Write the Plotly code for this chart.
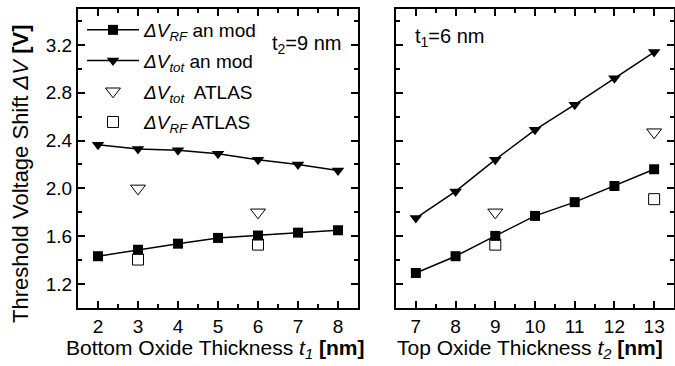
import plotly.graph_objects as go

# ---- data ----
t1_vals = [2, 3, 4, 5, 6, 7, 8]
rf_an_left = [1.433, 1.487, 1.538, 1.586, 1.606, 1.630, 1.650]
tot_an_left = [2.366, 2.330, 2.318, 2.290, 2.240, 2.200, 2.150]
t1_atlas = [3, 6]
tot_atlas_left = [2.00, 1.80]
rf_atlas_left = [1.405, 1.530]

t2_vals = [7, 8, 9, 10, 11, 12, 13]
rf_an_right = [1.293, 1.433, 1.603, 1.770, 1.885, 2.020, 2.160]
tot_an_right = [1.752, 1.975, 2.240, 2.490, 2.700, 2.920, 3.140]
t2_atlas = [9, 13]
tot_atlas_right = [1.80, 2.47]
rf_atlas_right = [1.53, 1.91]

legend_names = [
    "<i>ΔV<sub>RF</sub></i> an mod",
    "<i>ΔV<sub>tot</sub></i> an mod",
    "<i>ΔV<sub>tot</sub></i>  ATLAS",
    "<i>ΔV<sub>RF</sub></i> ATLAS",
]

W, H = 675, 366
FONT = "Liberation Sans, Arial, sans-serif"

def px(x):
    return x / W

def py(y):
    return 1 - y / H

fig = go.Figure()

def add_panel(xv, rf, tot, xa, tota, rfa, xaxis, yaxis, show):
    fig.add_trace(go.Scatter(x=xv, y=rf, mode="lines+markers", name=legend_names[0],
                             line=dict(color="black", width=1.5),
                             marker=dict(symbol="square", size=10, color="black"),
                             xaxis=xaxis, yaxis=yaxis, showlegend=show, legendgroup="a"))
    fig.add_trace(go.Scatter(x=xv, y=tot, mode="lines+markers", name=legend_names[1],
                             line=dict(color="black", width=1.5),
                             marker=dict(symbol="triangle-down", size=11, color="black"),
                             xaxis=xaxis, yaxis=yaxis, showlegend=show, legendgroup="b"))
    fig.add_trace(go.Scatter(x=xa, y=tota, mode="markers", name=legend_names[2],
                             marker=dict(symbol="triangle-down-open", size=13, color="black",
                                         line=dict(width=1)),
                             xaxis=xaxis, yaxis=yaxis, showlegend=show, legendgroup="c"))
    fig.add_trace(go.Scatter(x=xa, y=rfa, mode="markers", name=legend_names[3],
                             marker=dict(symbol="square-open", size=11, color="black",
                                         line=dict(width=1)),
                             xaxis=xaxis, yaxis=yaxis, showlegend=show, legendgroup="d"))

add_panel(t1_vals, rf_an_left, tot_an_left, t1_atlas, tot_atlas_left, rf_atlas_left, "x", "y", True)
add_panel(t2_vals, rf_an_right, tot_an_right, t2_atlas, tot_atlas_right, rf_atlas_right, "x2", "y2", False)

axis_common = dict(showline=True, linecolor="black", linewidth=2, mirror="allticks",
                   ticks="inside", ticklen=7, tickwidth=2, tickcolor="black",
                   showgrid=False, zeroline=False,
                   tickfont=dict(family=FONT, size=19, color="black"))
minor_common = dict(ticks="inside", ticklen=4, tickwidth=2, tickcolor="black")

fig.update_layout(
    width=W, height=H,
    margin=dict(l=0, r=0, t=0, b=0),
    paper_bgcolor="white", plot_bgcolor="white",
    font=dict(family=FONT, size=18, color="black"),
    xaxis=dict(domain=[px(78), px(358)], range=[1.5, 8.5], dtick=1, tick0=0,
               minor=dict(dtick=0.5, tick0=0, **minor_common),
               anchor="y", **axis_common),
    yaxis=dict(domain=[py(308), py(9)], range=[1.0, 3.5], dtick=0.4, tick0=0.4,
               tickformat=".1f",
               minor=dict(dtick=0.2, tick0=0, **minor_common),
               anchor="x", **axis_common),
    xaxis2=dict(domain=[px(396), px(674)], range=[6.5, 13.5], dtick=1, tick0=0,
                minor=dict(dtick=0.5, tick0=0, **minor_common),
                anchor="y2", **axis_common),
    yaxis2=dict(domain=[py(308), py(9)], range=[1.0, 3.5], dtick=0.4, tick0=0.4,
                minor=dict(dtick=0.2, tick0=0, **minor_common),
                anchor="x2", showticklabels=False, **axis_common),
    legend=dict(x=px(82), y=py(11), xanchor="left", yanchor="top",
                bgcolor="rgba(0,0,0,0)", borderwidth=0,
                font=dict(family=FONT, size=19, color="black"),
                itemwidth=52, traceorder="grouped", tracegroupgap=3),
)

ann = [
    dict(text="Threshold Voltage Shift <i>ΔV</i> <b>[V]</b>", x=px(20), y=py(174),
         textangle=-90, font=dict(size=22)),
    dict(text="Bottom Oxide Thickness <i>t<sub>1</sub></i> <b>[nm]</b>", x=px(215), y=py(349),
         font=dict(size=21)),
    dict(text="Top Oxide Thickness <i>t<sub>2</sub></i> <b>[nm]</b>", x=px(530), y=py(349),
         font=dict(size=21)),
    dict(text="t<sub>2</sub>=9 nm", x=px(270), y=py(44), xanchor="left", font=dict(size=20)),
    dict(text="t<sub>1</sub>=6 nm", x=px(413), y=py(37), xanchor="left", font=dict(size=20)),
]
for a in ann:
    a.setdefault("xanchor", "center")
    fig.add_annotation(xref="paper", yref="paper", showarrow=False, yanchor="middle",
                       **a)

fig.write_html("out.html")
